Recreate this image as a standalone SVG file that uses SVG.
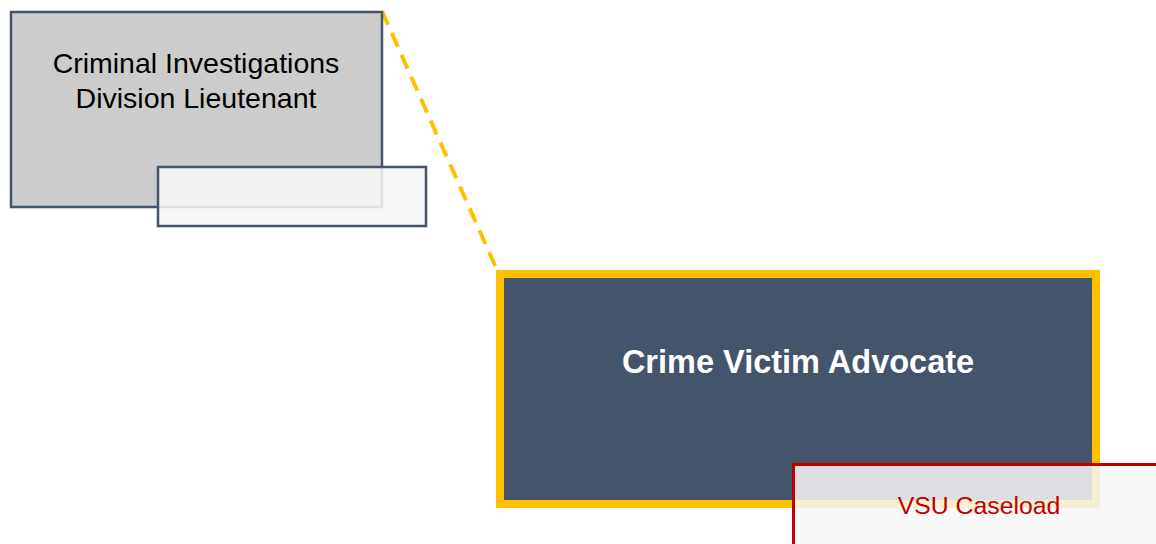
<svg xmlns="http://www.w3.org/2000/svg" width="1156" height="544" viewBox="0 0 1156 544">
  <style>
    .lbl { font-family: "Liberation Sans", Arial, sans-serif; text-anchor: middle; }
    .slate { stroke: #44546A; stroke-width: 2.5; }
    .overlay { fill: #F7F7F7; fill-opacity: 0.85; }
  </style>
  <rect width="1156" height="544" fill="#FFFFFF"/>

  <!-- reporting line -->
  <g id="connectors">
    <line x1="382" y1="11" x2="497" y2="270" stroke="#FFC000" stroke-width="4" stroke-dasharray="15 9"/>
  </g>

  <!-- Lieutenant -->
  <g id="node-lieutenant">
    <rect x="11" y="12" width="371" height="195" fill="#CCCCCC" class="slate"/>
    <text class="lbl" x="196" y="73" font-size="28.5" fill="#000000">Criminal Investigations</text>
    <text class="lbl" x="196" y="108" font-size="28.5" fill="#000000">Division Lieutenant</text>
  </g>
  <g id="node-lieutenant-tab">
    <rect x="158" y="167" width="268" height="59" class="slate overlay"/>
  </g>

  <!-- Advocate -->
  <g id="node-advocate">
    <rect x="500" y="274" width="596" height="230" fill="#44546A" stroke="#FFC000" stroke-width="8"/>
    <text class="lbl" x="798" y="373" font-size="32.5" font-weight="bold" fill="#FFFFFF">Crime Victim Advocate</text>
  </g>
  <g id="node-caseload">
    <rect x="793.5" y="464.5" width="380" height="100" class="overlay" fill-opacity="0.88" stroke="#C00000" stroke-width="3"/>
    <text class="lbl" x="979" y="514" font-size="24.8" fill="#C00000">VSU Caseload</text>
  </g>
</svg>
